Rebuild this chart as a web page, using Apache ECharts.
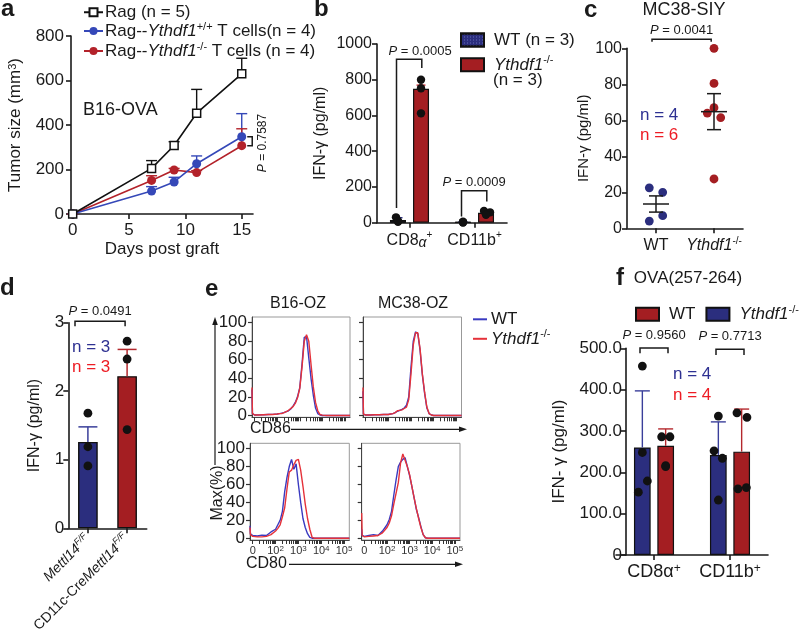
<!DOCTYPE html>
<html><head><meta charset="utf-8">
<script src="https://cdn.jsdelivr.net/npm/echarts@6/dist/echarts.min.js"></script>
<style>html,body{margin:0;padding:0;background:#fff}#c{width:800px;height:638px}</style>
</head><body><div id="c"></div>
<script>
// ---------------- DATA ----------------
// a: tumour growth
const aDays = [0, 7, 9, 11, 15];
const aRag = [0, 205, 308, 453, 630];
const aRagErr = [0, 240, 325, 560, 700];
const aWT = [0, 103, 144, 226, 347];
const aWTErr = [0, 123, 165, 261, 451];
const aKO = [0, 151, 198, 186, 307];
const aKOErr = [0, 172, 205, 195, 383];
// b
const bCats = ['CD8α+', 'CD11b+'];
const bWT = [15, 3];
const bWTErr = [28, 5];
const bKO = [750, 56];
const bKOErr = [770, 62];
const bWTDots = [[30, 10, 5], [5, 3, 1]];
const bKODots = [[800, 752, 612], [66, 58, 44]];
// c
const cCats = ['WT', 'Ythdf1-/-'];
const cWTDots = [22.5, 20, 4, 7];
const cKODots = [100, 80.5, 67, 64, 61.5, 27.4];
const cMean = [13.5, 64.8];
const cSEM = [4.5, 10];
// d
const dCats = ['Mettl14F/F', 'CD11c-CreMettl14F/F'];
const dMean = [1.26, 2.22];
const dErr = [1.48, 2.61];
const dDots = [[1.68, 1.19, 0.91], [2.73, 2.47, 1.44]];
// e: flow histograms (x in decades of fluorescence, y in % of max)
const eX = [0.88, 0.9, 1.0, 1.2, 1.4, 1.6, 1.8, 2.0, 2.1, 2.2, 2.3, 2.4, 2.5, 2.6, 2.7, 2.8, 2.9, 3.0, 3.1, 3.2, 3.3, 3.4, 3.5, 3.6, 3.7, 3.8, 3.9, 4.0, 4.2, 4.6, 5.0, 5.23];
const eB16CD86WT = [28, 2, 0.5, 0.6, 0.8, 1, 1.2, 1.5, 2, 2.5, 3, 4, 5, 7, 10, 14, 20, 30, 55, 84, 85, 62, 40, 22, 8, 2, 0.5, 0, 0, 0, 0, 0];
const eB16CD86KO = [30, 2, 0.5, 0.5, 0.8, 1, 1, 1.5, 2, 2, 3, 4, 5.5, 7.5, 9.5, 13, 19, 29, 52, 80, 87, 80, 55, 31, 14, 5, 1, 0.3, 0, 0, 0, 0];
const eMC38CD86WT = [26, 1.5, 0.5, 0.5, 0.8, 0.8, 1, 1, 1.5, 2, 3, 4.5, 5.5, 6.5, 8, 11, 20, 52, 80, 90, 88, 70, 44, 24, 8, 2, 0.5, 0, 0, 0, 0, 0];
const eMC38CD86KO = [30, 1.5, 0.5, 0.5, 0.8, 0.8, 1, 1, 1.5, 2, 3, 5, 5.5, 6, 7.5, 9, 17, 45, 76, 89, 89, 72, 45, 25, 9, 2, 0.5, 0, 0, 0, 0, 0];
const eB16CD80WT = [14, 5, 3, 2.5, 3.5, 3, 7, 10, 15, 20, 30, 52, 68, 80, 88, 77, 83, 60, 40, 22, 12, 5, 1, 0, 0, 0, 0, 0, 0, 0, 0, 0];
const eB16CD80KO = [12, 4, 2, 1.5, 1.5, 2, 4, 8, 11, 15, 24, 34, 55, 74, 76, 82, 87, 88, 76, 58, 38, 22, 10, 1, 0, 0, 0, 0, 0, 0, 0, 0];
const eMC38CD80WT = [10, 3, 2, 3, 4, 3, 8, 15, 21, 30, 48, 65, 80, 85, 88, 90, 80, 70, 58, 45, 32, 23, 13, 4, 0.5, 0, 0, 0, 0, 0, 0, 0];
const eMC38CD80KO = [28, 3, 1.5, 2, 2.5, 3, 6, 12, 17, 25, 38, 50, 62, 84, 94, 87, 80, 71, 58, 45, 33, 22, 12, 4, 0.5, 0, 0, 0, 0, 0, 0, 0];
const eYTicks = [0, 20, 40, 60, 80, 100];
const eXLabels = [1, 2, 3, 4, 5];
// f
const fCats = ['CD8α+', 'CD11b+'];
const fBlue = [260, 242];
const fBlueErr = [397, 322];
const fRed = [264, 250];
const fRedErr = [305, 353];
const fBlueDots = [[457, 248, 179, 152], [336, 252, 234, 133]];
const fRedDots = [[286, 286, 216, 214], [344, 333, 160, 163]];
// p-values
const bP = ['0.0005', '0.0009'];
const cP = ['0.0041'];
const dP = ['0.0491'];
const fP = ['0.9560', '0.7713'];
const aP = '0.7587';

// ---------------- LAYOUT / STYLE ----------------
const F = 'Liberation Sans, Arial, Helvetica, sans-serif';
const INK = '#1a1a1a';
const NAVY = '#2b2e7e', CRIM = '#a41e22';
const LBLUE = '#3548b8', LRED = '#b3222a';
const EBLUE = '#3a3ac0', ERED = '#e5323a';
const TBLUE = '#2e3192', TRED = '#ed1c24';
// jitter (px) of dots
const bJit = [[[-2, 0, 0], [0, 0, 0]], [[0, 0, 0], [-2, 4, 0]]];
const cJitWT = [-6.7, 6.7, -6.7, 6.7];
const cJitKO = [0, 0, 0, -6.7, 6.7, 0];
const dJit = [[0, 0, 0], [0, 0, 0]];
const fJitBlue = [[0, 0, 5, -4], [0, -4.3, 4, 0]];
const fJitRed = [[-4, 4.3, 0, 0], [-4.7, 5.3, -3.7, 4.7]];
// bracket heights (data units): [top, leftEnd, rightEnd]
const bBr = [[914, 82, 866], [179, 34, 118]];
const cBr = [[105, 103.7, 103.7]];
const dBr = [[3.02, 2.95, 2.95]];
const fBr = [[501, 488, 488], [498, 484, 484]];

function merge(a, b) {
  const out = Object.assign({}, a);
  for (const k in b) {
    const bv = b[k], av = a ? a[k] : undefined;
    if (bv && typeof bv === 'object' && !Array.isArray(bv) && av && typeof av === 'object' && !Array.isArray(av)) out[k] = merge(av, bv);
    else out[k] = bv;
  }
  return out;
}
function rich(fs, color) {
  color = color || INK;
  const ss = Math.round(fs * 0.65);
  return {
    i: {fontStyle: 'italic', fontSize: fs, fontFamily: F, color: color, lineHeight: fs + 3},
    s: {fontSize: ss, fontFamily: F, color: color, verticalAlign: 'top', lineHeight: ss},
    si: {fontSize: ss, fontStyle: 'italic', fontFamily: F, color: color, verticalAlign: 'top', lineHeight: ss},
    b: {fontSize: Math.round(fs * 0.85), fontStyle: 'italic', fontFamily: F, color: color, verticalAlign: 'bottom', lineHeight: Math.round(fs * 0.85)},
    pi: {fontStyle: 'italic', fontSize: fs, fontFamily: F, color: color}
  };
}
const axBase = {
  splitLine: {show: false},
  axisLine: {show: true, onZero: false, lineStyle: {color: INK, width: 1.6}},
  axisTick: {show: true, length: 5, lineStyle: {color: INK, width: 1.6}},
  axisLabel: {color: INK, fontSize: 16, fontFamily: F, margin: 6, lineHeight: 19},
  nameTextStyle: {color: INK, fontSize: 16, fontFamily: F}
};
function catAx(gi, data, map, o) {
  return merge(axBase, merge({gridIndex: gi, type: 'category', data: data,
    axisTick: {alignWithLabel: true},
    axisLabel: {formatter: v => map[v], rich: rich(16), margin: 8, interval: 0}}, o || {}));
}
function valAx(gi, o) { return merge(axBase, merge({gridIndex: gi, type: 'value', axisLabel: {formatter: v => String(v)}}, o)); }

// renderers
function errRender(dx, half, colorFn, lw) {
  return (params, api) => {
    const p0 = api.coord([api.value(0), api.value(1)]);
    const p1 = api.coord([api.value(0), api.value(2)]);
    const cx = p0[0] + dx, col = colorFn(params.dataIndex);
    return {type: 'group', children: [
      {type: 'line', shape: {x1: cx, y1: p0[1], x2: cx, y2: p1[1]}, style: {stroke: col, lineWidth: lw}},
      {type: 'line', shape: {x1: cx - half, y1: p1[1], x2: cx + half, y2: p1[1]}, style: {stroke: col, lineWidth: lw}}
    ]};
  };
}
function dotRender(dx, r, color) {
  return (params, api) => {
    const p = api.coord([api.value(0), api.value(1)]);
    return {type: 'circle', shape: {cx: p[0] + dx + api.value(2), cy: p[1], r: r}, style: {fill: color}};
  };
}
function bracketRender(dxL, dxR, labels, textGap, textDx) {
  return (params, api) => {
    const c = api.value(0);
    const t = api.coord([c, api.value(1)]);
    const l = api.coord([c, api.value(2)]);
    const r = api.coord([c, api.value(3)]);
    const xL = t[0] + dxL, xR = t[0] + dxR;
    const tdx = textDx ? textDx[params.dataIndex] : 0;
    return {type: 'group', children: [
      {type: 'polyline', shape: {points: [[xL, l[1]], [xL, t[1]], [xR, t[1]], [xR, r[1]]]}, style: {stroke: INK, lineWidth: 1.5, fill: null}},
      {type: 'text', x: (xL + xR) / 2 + tdx, y: t[1] - textGap, style: {text: '{pi|P} = ' + labels[params.dataIndex], fontSize: 13, fontFamily: F, fill: INK, align: 'center', verticalAlign: 'middle', rich: {pi: {fontStyle: 'italic', fontSize: 13, fontFamily: F, fill: INK}}}}
    ]};
  };
}
function dotData(dots, jit) {
  const out = [];
  dots.forEach((arr, ci) => arr.forEach((v, j) => out.push([ci, v, jit[ci][j]])));
  return out;
}
function custom(gi, data, render, z) {
  return {type: 'custom', xAxisIndex: gi, yAxisIndex: gi, data: data, renderItem: render, z: z || 5, silent: true, clip: false, encode: {x: 0, y: 1}};
}

// ---------------- AXES ----------------
const bMap = {'CD8α+': 'CD8{b|α}{s|+}', 'CD11b+': 'CD11b{s|+}'};
const cMap = {'WT': 'WT', 'Ythdf1-/-': '{i|Ythdf1}{s|-/-}'};
const dMap = {'Mettl14F/F': '{i|Mettl14}{si|F/F}', 'CD11c-CreMettl14F/F': 'CD11c-Cre{i|Mettl14}{si|F/F}'};
const fMap = {'CD8α+': 'CD8α{s|+}', 'CD11b+': 'CD11b{s|+}'};

const eTicks = [];
for (let d = 1; d <= 4; d++) for (let k = 1; k <= 9; k++) eTicks.push(+(d + Math.log10(k)).toFixed(3));
eTicks.push(5);
function eXAx(gi, show) {
  return valAx(gi, {min: 0.88, max: 5.23,
    axisLine: {lineStyle: {color: '#444', width: 1}},
    axisTick: {length: 4, customValues: eTicks, lineStyle: {color: '#333', width: 1}},
    axisLabel: {show: show, customValues: eXLabels, fontSize: 11, color: '#333', margin: 5, lineHeight: 12,
      formatter: v => v === 1 ? '0' : '10{s|' + Math.round(v) + '}',
      rich: {s: {fontSize: 8, verticalAlign: 'top', lineHeight: 8, color: '#333', fontFamily: F}}}});
}
function eYAx(gi, show) {
  return valAx(gi, {min: -2, max: 106,
    axisLine: {lineStyle: {color: '#444', width: 1}},
    axisTick: {length: 4, customValues: eYTicks, lineStyle: {color: '#333', width: 1.2}},
    axisLabel: {show: show, customValues: eYTicks, fontSize: 17, margin: 5, lineHeight: 17}});
}

const grids = [
  {left: 71, top: 36, width: 182, height: 178},
  {left: 377, top: 44, width: 130, height: 178.7},
  {left: 627, top: 48.3, width: 116, height: 180},
  {left: 68.3, top: 322.7, width: 78.4, height: 205.6},
  {left: 252, top: 317, width: 98, height: 100.3, show: true, borderColor: '#999', borderWidth: 1},
  {left: 363, top: 317, width: 98.5, height: 100.3, show: true, borderColor: '#999', borderWidth: 1},
  {left: 250, top: 443.3, width: 99.3, height: 96.7, show: true, borderColor: '#999', borderWidth: 1},
  {left: 361.7, top: 443.3, width: 98.3, height: 96.7, show: true, borderColor: '#999', borderWidth: 1},
  {left: 616, top: 348.3, width: 152, height: 206.7}
];

const xAxes = [
  valAx(0, {min: -0.15, max: 16, axisTick: {customValues: [0, 5, 10, 15]}, axisLabel: {customValues: [0, 5, 10, 15], fontSize: 17, margin: 7},
    name: 'Days post graft', nameLocation: 'middle', nameGap: 24, nameTextStyle: {fontSize: 17}}),
  catAx(1, bCats, bMap),
  catAx(2, cCats, cMap),
  catAx(3, dCats, dMap, {axisLabel: {rotate: 45, fontSize: 14, margin: 9, rich: rich(14)}}),
  eXAx(4, false), eXAx(5, false), eXAx(6, true), eXAx(7, true),
  catAx(8, fCats, fMap, {axisLabel: {fontSize: 18, rich: rich(18), margin: 8}})
];
const yAxes = [
  valAx(0, {min: 0, max: 800, interval: 200, axisLabel: {fontSize: 17, margin: 7},
    name: 'Tumor size (mm{s|3})', nameLocation: 'middle', nameGap: 47, nameTextStyle: {fontSize: 17, rich: rich(17)}}),
  valAx(1, {min: 0, max: 1000, interval: 200, axisLabel: {margin: 5},
    name: 'IFN-γ (pg/ml)', nameLocation: 'middle', nameGap: 48}),
  valAx(2, {min: 0, max: 100, interval: 20, axisLabel: {margin: 5},
    name: 'IFN-γ (pg/ml)', nameLocation: 'middle', nameGap: 33, nameTextStyle: {fontSize: 15}}),
  valAx(3, {min: 0, max: 3, interval: 1, axisLabel: {fontSize: 17, margin: 4},
    name: 'IFN-γ (pg/ml)', nameLocation: 'middle', nameGap: 26}),
  eYAx(4, true), eYAx(5, false), eYAx(6, true), eYAx(7, false),
  valAx(8, {min: 0, max: 500, interval: 100, offset: -10, axisLabel: {fontSize: 17, margin: 4, formatter: v => v === 0 ? '0' : v.toFixed(1)},
    name: 'IFN- γ (pg/ml)', nameLocation: 'middle', nameGap: 58, nameTextStyle: {fontSize: 17}})
];

// ---------------- SERIES ----------------
const series = [];
// a
series.push(custom(0, aDays.map((d, i) => [d, aRag[i], aRagErr[i]]), errRender(0, 5.5, () => '#111', 1.4), 2));
series.push(custom(0, aDays.map((d, i) => [d, aWT[i], aWTErr[i]]), errRender(0, 5.5, () => LBLUE, 1.4), 2));
series.push(custom(0, aDays.map((d, i) => [d, aKO[i], aKOErr[i]]), errRender(0, 5.5, () => LRED, 1.4), 2));
series.push({type: 'line', name: 'RagKO', xAxisIndex: 0, yAxisIndex: 0, data: aDays.map((d, i) => [d, aKO[i]]),
  symbol: 'circle', symbolSize: 9, itemStyle: {color: LRED}, lineStyle: {color: LRED, width: 1.6}, z: 3});
series.push({type: 'line', name: 'RagWT', xAxisIndex: 0, yAxisIndex: 0, data: aDays.map((d, i) => [d, aWT[i]]),
  symbol: 'circle', symbolSize: 9, itemStyle: {color: LBLUE}, lineStyle: {color: LBLUE, width: 1.6}, z: 3});
series.push({type: 'line', name: 'Rag', xAxisIndex: 0, yAxisIndex: 0, data: aDays.map((d, i) => [d, aRag[i]]),
  symbol: 'rect', symbolSize: 8, itemStyle: {color: '#fff', borderColor: '#111', borderWidth: 1.5}, lineStyle: {color: '#111', width: 1.6}, z: 4});
series.push(custom(0, [[aDays[4], aWT[4], aKO[4]]], (params, api) => {
  const p = api.coord([api.value(0), api.value(1)]);
  const q = api.coord([api.value(0), api.value(2)]);
  const x0 = p[0] + 5.5, x1 = p[0] + 10.5;
  return {type: 'polyline', shape: {points: [[x0, p[1]], [x1, p[1]], [x1, q[1]], [x0, q[1]]]}, style: {stroke: INK, lineWidth: 1.5, fill: null}};
}, 5));

// b
series.push({type: 'bar', name: 'bWT', xAxisIndex: 1, yAxisIndex: 1, data: bWT, barWidth: 16, barGap: '44%',
  itemStyle: {color: NAVY, borderColor: '#111', borderWidth: 1.2,
    decal: {symbol: 'rect', symbolSize: 1, dashArrayX: [1, 1.5], dashArrayY: [1, 1.5], color: 'rgba(150,160,230,0.55)'}}, z: 2});
series.push({type: 'bar', name: 'bKO', xAxisIndex: 1, yAxisIndex: 1, data: bKO, barWidth: 16,
  itemStyle: {color: CRIM, borderColor: '#111', borderWidth: 1.2}, z: 2});
series.push(custom(1, bCats.map((c, i) => [i, bWT[i], bWTErr[i]]), errRender(-11.5, 4.5, () => NAVY, 1.4), 3));
series.push(custom(1, bCats.map((c, i) => [i, bKO[i], bKOErr[i]]), errRender(11.5, 4.5, () => '#d0343a', 1.4), 3));
series.push(custom(1, dotData(bWTDots, bJit[0]), dotRender(-11.5, 4.2, '#111'), 4));
series.push(custom(1, dotData(bKODots, bJit[1]), dotRender(11.5, 4.2, '#111'), 4));
series.push(custom(1, bBr.map((b, i) => [i, b[0], b[1], b[2]]), bracketRender(-13, 12.3, bP, 8, [11, 0]), 5));

// c
series.push(custom(2, cWTDots.map((v, j) => [0, v, cJitWT[j]]), dotRender(0, 4.4, NAVY), 4));
series.push(custom(2, cKODots.map((v, j) => [1, v, cJitKO[j]]), dotRender(0, 4.4, CRIM), 4));
series.push(custom(2, cCats.map((c, i) => [i, cMean[i], cSEM[i]]), (params, api) => {
  const m = api.coord([api.value(0), api.value(1)]);
  const hi = api.coord([api.value(0), api.value(1) + api.value(2)]);
  const lo = api.coord([api.value(0), api.value(1) - api.value(2)]);
  const x = m[0], hw = 13, cw = 7, st = {stroke: INK, lineWidth: 1.5};
  return {type: 'group', children: [
    {type: 'line', shape: {x1: x - hw, y1: m[1], x2: x + hw, y2: m[1]}, style: st},
    {type: 'line', shape: {x1: x, y1: lo[1], x2: x, y2: hi[1]}, style: st},
    {type: 'line', shape: {x1: x - cw, y1: lo[1], x2: x + cw, y2: lo[1]}, style: st},
    {type: 'line', shape: {x1: x - cw, y1: hi[1], x2: x + cw, y2: hi[1]}, style: st}
  ]};
}, 5));
series.push(custom(2, cBr.map(b => [0, b[0], b[1], b[2]]), bracketRender(-4, 55.2, cP, 9), 5));

// d
series.push({type: 'bar', name: 'dBar', xAxisIndex: 3, yAxisIndex: 3, barWidth: 19.7,
  data: dMean.map((v, i) => ({value: v, itemStyle: {color: i === 0 ? NAVY : CRIM}})),
  itemStyle: {borderColor: '#111', borderWidth: 1.4}, z: 2});
series.push(custom(3, dCats.map((c, i) => [i, dMean[i], dErr[i]]), errRender(0, 9.5, i => (i === 0 ? '#3a3f9a' : '#b4282d'), 1.5), 3));
series.push(custom(3, dotData(dDots, dJit), dotRender(0, 4.4, '#111'), 4));
series.push(custom(3, dBr.map(b => [0, b[0], b[1], b[2]]), bracketRender(-12.9, 37.2, dP, 10), 5));

// e
const eSets = [[eB16CD86WT, eB16CD86KO], [eMC38CD86WT, eMC38CD86KO], [eB16CD80WT, eB16CD80KO], [eMC38CD80WT, eMC38CD80KO]];
eSets.forEach((pair, k) => {
  const gi = 4 + k;
  series.push({type: 'line', name: 'eWT', xAxisIndex: gi, yAxisIndex: gi, data: eX.map((x, i) => [x, pair[0][i]]),
    showSymbol: false, symbol: 'none', lineStyle: {color: EBLUE, width: 1.4}, itemStyle: {color: EBLUE}, z: 3, silent: true});
  series.push({type: 'line', name: 'eKO', xAxisIndex: gi, yAxisIndex: gi, data: eX.map((x, i) => [x, pair[1][i]]),
    showSymbol: false, symbol: 'none', lineStyle: {color: ERED, width: 1.4}, itemStyle: {color: ERED}, z: 4, silent: true});
});

// f
series.push({type: 'bar', name: 'fBlue', xAxisIndex: 8, yAxisIndex: 8, data: fBlue, barWidth: 16.7, barGap: '40%',
  itemStyle: {color: NAVY, borderColor: '#111', borderWidth: 1.2}, z: 2});
series.push({type: 'bar', name: 'fRed', xAxisIndex: 8, yAxisIndex: 8, data: fRed, barWidth: 16.7,
  itemStyle: {color: CRIM, borderColor: '#111', borderWidth: 1.2}, z: 2});
series.push(custom(8, fCats.map((c, i) => [i, fBlue[i], fBlueErr[i]]), errRender(-11.65, 7.5, () => '#3a3f9a', 1.4), 3));
series.push(custom(8, fCats.map((c, i) => [i, fRed[i], fRedErr[i]]), errRender(11.65, 7.5, () => '#b4282d', 1.4), 3));
series.push(custom(8, dotData(fBlueDots, fJitBlue), dotRender(-11.65, 4.4, '#111'), 4));
series.push(custom(8, dotData(fRedDots, fJitRed), dotRender(11.65, 4.4, '#111'), 4));
series.push(custom(8, fBr.map((b, i) => [i, b[0], b[1], b[2]]), bracketRender(-14, 14, fP, 12.5), 5));

// ---------------- LEGENDS ----------------
const legends = [
  {left: 83, top: 3.5, padding: 0, orient: 'vertical', itemWidth: 19, itemHeight: 10, itemGap: 0, data: ['Rag', 'RagWT', 'RagKO'],
    formatter: n => ({Rag: 'Rag (n = 5)', RagWT: 'Rag--{i|Ythdf1}{s|+/+} T cells(n = 4)', RagKO: 'Rag--{i|Ythdf1}{s|-/-} T cells (n = 4)'})[n],
    textStyle: {fontSize: 17, fontFamily: F, color: INK, lineHeight: 17.5, padding: [0, 0, 0, -3], rich: rich(17)}, selectedMode: false},
  {left: 460, top: 31.5, padding: 0, orient: 'vertical', itemWidth: 23, itemHeight: 13, itemGap: 6.3, icon: 'rect', data: ['bWT', 'bKO'],
    formatter: n => n === 'bWT' ? 'WT (n = 3)' : '{i|Ythdf1}{s|-/-}',
    textStyle: {fontSize: 17, fontFamily: F, color: INK, lineHeight: 17, padding: [0, 0, 0, 5], rich: rich(17)}, selectedMode: false},
  {left: 473, top: 310.8, padding: 0, orient: 'vertical', itemWidth: 14, itemHeight: 2, itemGap: 1, icon: 'rect',
    data: [{name: 'eWT', itemStyle: {color: EBLUE}}, {name: 'eKO', itemStyle: {color: ERED}}],
    formatter: n => n === 'eWT' ? 'WT' : '{i|Ythdf1}{s|-/-}',
    textStyle: {fontSize: 17, fontFamily: F, color: INK, lineHeight: 17, padding: [0, 0, 0, -1], rich: rich(17)}, selectedMode: false},
  {left: 635, top: 304.2, padding: 0, width: 300, orient: 'horizontal', itemWidth: 23, itemHeight: 13, itemGap: 10, icon: 'rect', data: ['fRed', 'fBlue'],
    formatter: n => n === 'fRed' ? 'WT' : '{i|Ythdf1}{s|-/-}',
    textStyle: {fontSize: 17, fontFamily: F, color: INK, lineHeight: 17, padding: [0, 0, 0, 5], rich: rich(17)}, selectedMode: false}
];

// ---------------- GRAPHIC TEXT ----------------
function T(x, y, text, o) {
  o = o || {};
  return {type: 'text', x: x, y: y, rotation: o.rot || 0, z: 100, silent: true,
    style: {text: text, fill: o.color || INK, fontSize: o.size || 16, fontFamily: F, fontWeight: o.weight || 'normal',
      fontStyle: o.style || 'normal', align: o.align || 'left', verticalAlign: o.va || 'middle', rich: o.rich}};
}
function L(x1, y1, x2, y2, w) {
  return {type: 'line', z: 100, silent: true, shape: {x1: x1, y1: y1, x2: x2, y2: y2}, style: {stroke: INK, lineWidth: w || 1.2}};
}
function P(points) { return {type: 'polygon', z: 100, silent: true, shape: {points: points}, style: {fill: INK}}; }
const gfx = [
  T(1, 9, 'a', {size: 24, weight: 'bold'}),
  T(314, 9, 'b', {size: 24, weight: 'bold'}),
  T(584, 10, 'c', {size: 24, weight: 'bold'}),
  T(0, 288, 'd', {size: 24, weight: 'bold'}),
  T(205, 289, 'e', {size: 24, weight: 'bold'}),
  T(616, 278, 'f', {size: 24, weight: 'bold'}),
  T(83, 110, 'B16-OVA', {size: 18}),
  T(263, 143, '{pi|P} = ' + aP, {size: 12, align: 'center', rot: Math.PI / 2, rich: {pi: {fontStyle: 'italic', fontSize: 12, fontFamily: F}}}),
  T(493, 80, '(n = 3)', {size: 17}),
  T(684, 10, 'MC38-SIY', {size: 18, align: 'center'}),
  T(640, 115, 'n = 4', {size: 17, color: TBLUE}),
  T(640, 135, 'n = 6', {size: 17, color: TRED}),
  T(72, 347.7, 'n = 3', {size: 17, color: TBLUE}),
  T(72, 367.3, 'n = 3', {size: 17, color: TRED}),
  T(298, 304, 'B16-OZ', {size: 16, align: 'center'}),
  T(413, 304, 'MC38-OZ', {size: 16, align: 'center'}),
  T(250, 428.5, 'CD86', {size: 16}),
  L(291, 429.3, 462, 429.3), P([[467, 429.3], [459, 426.5], [459, 432.1]]),
  T(246, 564, 'CD80', {size: 16}),
  L(289, 564.3, 458, 564.3), P([[463, 564.3], [455, 561.5], [455, 567.1]]),
  L(215, 465, 215, 322), P([[215, 317], [212.2, 325], [217.8, 325]]),
  T(218, 493, 'Max(%)', {size: 16, align: 'center', rot: Math.PI / 2}),
  T(688, 278, 'OVA(257-264)', {size: 17, align: 'center'}),
  T(673, 374, 'n = 4', {size: 17, color: TBLUE}),
  T(673, 395, 'n = 4', {size: 17, color: TRED})
];

const chart = echarts.init(document.getElementById('c'), null, {renderer: 'canvas'});
chart.setOption({
  animation: false,
  backgroundColor: '#fff',
  textStyle: {fontFamily: F},
  grid: grids,
  xAxis: xAxes,
  yAxis: yAxes,
  legend: legends,
  series: series,
  graphic: {elements: gfx}
});
</script></body></html>
